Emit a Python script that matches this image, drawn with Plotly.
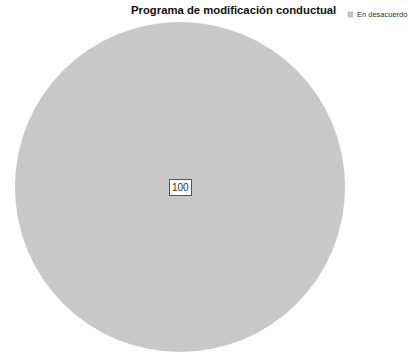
import plotly.graph_objects as go

categories = ["En desacuerdo"]
values = [100]
label_text = ["100"]
pie_colors = ["#c8c8c8"]

W, H = 408, 355
cx, cy, r = 180, 187, 165

fig = go.Figure(go.Pie(
    labels=categories,
    values=values,
    marker=dict(colors=pie_colors, line=dict(width=0)),
    textinfo="none",
    sort=False,
    hoverinfo="label+value",
    showlegend=False,
    domain=dict(x=[(cx - r) / W, (cx + r) / W], y=[1 - (cy + r) / H, 1 - (cy - r) / H]),
))

fig.add_annotation(
    x=cx / W, y=1 - cy / H, xref="paper", yref="paper",
    text=label_text[0], showarrow=False,
    font=dict(family="Liberation Sans, Arial", size=10, color="#333333"),
    bordercolor="#555555", borderwidth=1, borderpad=2, bgcolor="#ffffff",
)

# title
fig.add_annotation(
    x=233 / W, y=1 - 10 / H, xref="paper", yref="paper",
    text="<b>Programa de modificación conductual</b>", showarrow=False,
    xanchor="center", yanchor="middle",
    font=dict(family="Liberation Sans, Arial", size=11.3, color="#111111"),
)

# legend (swatch + label)
fig.add_shape(type="rect", xref="paper", yref="paper",
              x0=348 / W, x1=353 / W, y0=1 - 17 / H, y1=1 - 12 / H,
              fillcolor=pie_colors[0], line=dict(color="#aaaaaa", width=0.5))
fig.add_annotation(
    x=355 / W, y=1 - 14.5 / H, xref="paper", yref="paper",
    text=categories[0], showarrow=False, xanchor="left", yanchor="middle",
    font=dict(family="Liberation Sans, Arial", size=7.5, color="#333333"),
)

fig.update_layout(
    width=W, height=H,
    margin=dict(l=0, r=0, t=0, b=0),
    paper_bgcolor="white",
    showlegend=False,
)

fig.write_html("out.html",
               config={"displayModeBar": False},
               post_script="document.body.style.margin='0';document.body.style.overflow='hidden';")
